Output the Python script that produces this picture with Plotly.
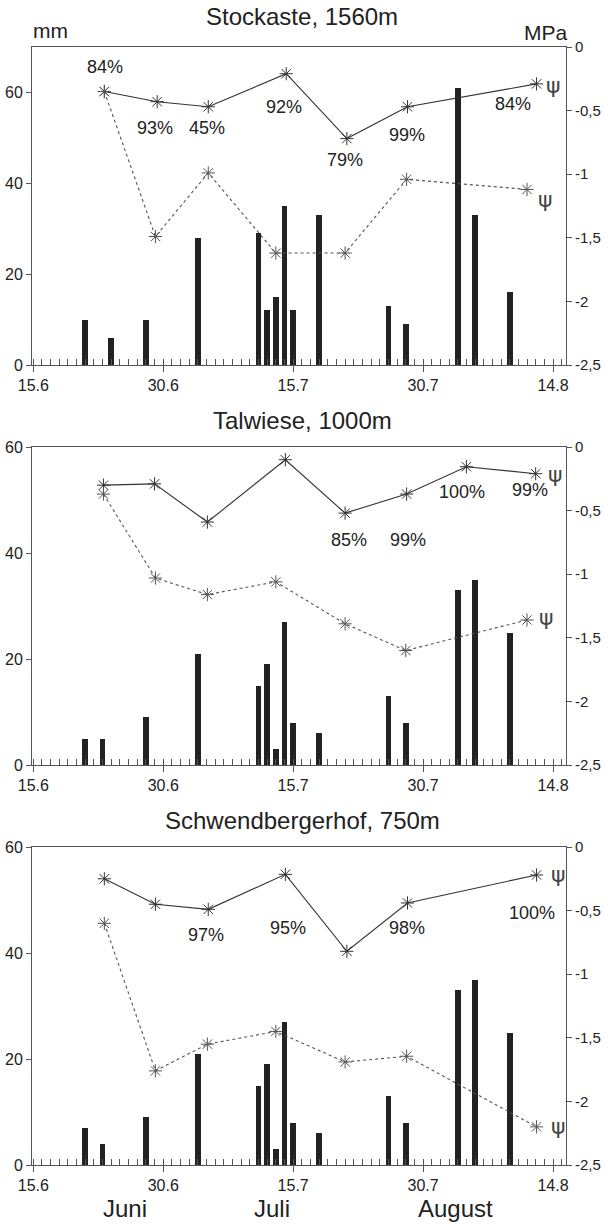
import plotly.graph_objects as go

# ---------------- data ----------------
# x = days since 15 June
tick_days = [0, 15, 30, 45, 60]
tick_labels = ["15.6", "30.6", "15.7", "30.7", "14.8"]
months = ["Juni", "Juli", "August"]

titles = ["Stockaste, 1560m", "Talwiese, 1000m", "Schwendbergerhof, 750m"]

# precipitation (mm)
p1_days = [6, 9, 13, 19, 26, 27, 28, 29, 30, 33, 41, 43, 49, 51, 55]
p1_mm = [10, 6, 10, 28, 29, 12, 15, 35, 12, 33, 13, 9, 61, 33, 16]
p2_days = [6, 8, 13, 19, 26, 27, 28, 29, 30, 33, 41, 43, 49, 51, 55]
p2_mm = [5, 5, 9, 21, 15, 19, 3, 27, 8, 6, 13, 8, 33, 35, 25]
p3_days = [6, 8, 13, 19, 26, 27, 28, 29, 30, 33, 41, 43, 49, 51, 55]
p3_mm = [7, 4, 9, 21, 15, 19, 3, 27, 8, 6, 13, 8, 33, 35, 25]

# water potential (MPa), solid = upper curve, dotted = lower curve
s1_days = [8.2, 14.3, 20.2, 29.2, 36.2, 43.2, 58.1]
s1_mpa = [-0.35, -0.43, -0.47, -0.21, -0.72, -0.47, -0.29]
d1_days = [8.2, 14.1, 20.2, 28.0, 36.0, 43.1, 57.0]
d1_mpa = [-0.35, -1.49, -0.99, -1.62, -1.62, -1.04, -1.12]

s2_days = [8.1, 14.0, 20.1, 29.1, 36.0, 43.1, 50.0, 58.0]
s2_mpa = [-0.30, -0.29, -0.59, -0.10, -0.52, -0.37, -0.155, -0.21]
d2_days = [8.1, 14.1, 20.1, 28.0, 36.0, 43.0, 57.0]
d2_mpa = [-0.37, -1.03, -1.16, -1.06, -1.39, -1.60, -1.36]

s3_days = [8.2, 14.1, 20.2, 29.1, 36.2, 43.2, 58.1]
s3_mpa = [-0.25, -0.45, -0.49, -0.215, -0.82, -0.44, -0.22]
d3_days = [8.2, 14.1, 20.1, 28.0, 36.0, 43.1, 58.1]
d3_mpa = [-0.60, -1.76, -1.55, -1.45, -1.69, -1.645, -2.20]

pct1 = ["84%", "93%", "45%", "92%", "79%", "99%", "84%"]
pct2 = ["85%", "99%", "100%", "99%"]
pct3 = ["97%", "95%", "98%", "100%"]

mpa_ticks = [0, -0.5, -1, -1.5, -2, -2.5]
mpa_labels = ["0", "-0,5", "-1", "-1,5", "-2", "-2,5"]
mm_ticks = [0, 20, 40, 60]

# ---------------- layout helpers (positions) ----------------
pct1_pos = [(8.3, -0.155), (14.1, -0.64), (20.1, -0.64), (28.9, -0.47),
            (36.0, -0.89), (43.1, -0.69), (55.4, -0.45)]
pct2_pos = [(36.4, -0.73), (43.3, -0.73), (49.5, -0.35), (57.3, -0.34)]
pct3_pos = [(19.9, -0.69), (29.4, -0.64), (43.1, -0.64), (57.6, -0.52)]
psi_pos = [[(60.1, -0.30), (59.1, -1.20)],
           [(60.3, -0.22), (59.2, -1.34)],
           [(60.6, -0.22), (60.6, -2.20)]]
month_x = [10.6, 27.6, 48.7]

W, H = 610, 1224
L, R, T, B = 32, 566, 47, 1165
def py(p):
    return (B - p) / (B - T)
def px(p):
    return (p - L) / (R - L)

domains = [[py(365), 1.0], [py(765), py(447)], [0.0, py(847)]]
title_y = [17, 420, 820]
mm_max = [70, 60, 60]

FONT = "Liberation Sans, Arial, sans-serif"
FRAME = "#555"
INK = "#222"

fig = go.Figure()

panels = [
    (p1_days, p1_mm, s1_days, s1_mpa, d1_days, d1_mpa, pct1, pct1_pos),
    (p2_days, p2_mm, s2_days, s2_mpa, d2_days, d2_mpa, pct2, pct2_pos),
    (p3_days, p3_mm, s3_days, s3_mpa, d3_days, d3_mpa, pct3, pct3_pos),
]

annotations = []
layout = dict(
    width=W, height=H,
    margin=dict(l=L, r=W - R, t=T, b=H - B, autoexpand=False),
    paper_bgcolor="white", plot_bgcolor="white",
    showlegend=False,
    font=dict(family=FONT, size=16, color=INK),
    bargap=0,
)

def paper_text(txt, x, y, size, xref="paper"):
    return dict(text=txt, x=x, y=y, xref=xref, yref="paper", showarrow=False,
                xanchor="center", yanchor="middle", font=dict(size=size, color=INK))

for i, (bd, bv, sd, sv, dd, dv, pct, ppos) in enumerate(panels):
    xn = "x" if i == 0 else f"x{i+1}"
    yl = f"y{2*i+1}" if i > 0 else "y"
    yr = f"y{2*i+2}"
    fig.add_trace(go.Bar(x=bd, y=bv, width=0.65, marker=dict(color=INK, line=dict(width=0)),
                         xaxis=xn, yaxis=yl))
    fig.add_trace(go.Scatter(x=sd, y=sv, mode="lines+markers", xaxis=xn, yaxis=yr,
                             line=dict(color="#333", width=1.1),
                             marker=dict(symbol="asterisk-open", size=11,
                                         line=dict(color="#333", width=1))))
    fig.add_trace(go.Scatter(x=dd, y=dv, mode="lines+markers", xaxis=xn, yaxis=yr,
                             line=dict(color="#555", width=1.1, dash="dot"),
                             marker=dict(symbol="asterisk-open", size=11,
                                         line=dict(color="#444", width=1))))
    xkey = "xaxis" if i == 0 else f"xaxis{i+1}"
    ylkey = "yaxis" if i == 0 else f"yaxis{2*i+1}"
    yrkey = f"yaxis{2*i+2}"
    layout[xkey] = dict(
        domain=[0, 1], anchor=yl, range=[-0.15, 61.5], automargin=False,
        tickmode="array", tickvals=tick_days, ticktext=tick_labels,
        ticks="outside", ticklen=6, tickcolor=FRAME, tickwidth=1,
        minor=dict(tickmode="linear", tick0=0, dtick=1, ticks="inside",
                   ticklen=6, tickcolor=FRAME, tickwidth=1, showgrid=False),
        showline=True, linecolor=FRAME, linewidth=1, mirror=True,
        showgrid=False, zeroline=False, tickfont=dict(size=16),
    )
    layout[ylkey] = dict(
        domain=domains[i], anchor=xn, range=[0, mm_max[i]], automargin=False,
        tickmode="array", tickvals=mm_ticks,
        ticks="outside", ticklen=5, tickcolor=FRAME,
        showline=True, linecolor=FRAME, linewidth=1,
        showgrid=False, zeroline=False, tickfont=dict(size=16),
    )
    layout[yrkey] = dict(
        domain=domains[i], anchor=xn, overlaying=yl, side="right", automargin=False,
        range=[-2.5, 0], tickmode="array", tickvals=mpa_ticks, ticktext=mpa_labels,
        ticks="outside", ticklen=5, tickcolor=FRAME,
        showline=True, linecolor=FRAME, linewidth=1,
        showgrid=False, zeroline=False, tickfont=dict(size=15),
    )
    for txt, (ax_, ay_) in zip(pct, ppos):
        annotations.append(dict(text=txt, x=ax_, y=ay_, xref=xn, yref=yr,
                                showarrow=False, xanchor="center", yanchor="middle",
                                font=dict(size=18, color=INK)))
    for (ax_, ay_) in psi_pos[i]:
        annotations.append(dict(text="ψ", x=ax_, y=ay_, xref=xn, yref=yr,
                                showarrow=False, xanchor="center", yanchor="middle",
                                font=dict(size=22, color="#444",
                                          family="DejaVu Sans")))
    annotations.append(paper_text(titles[i], px(302), py(title_y[i]), 24))

annotations.append(paper_text("mm", px(50), py(31), 21))
annotations.append(paper_text("MPa", px(546), py(32), 21))
for m, mx in zip(months, month_x):
    annotations.append(paper_text(m, mx, py(1208), 24, xref="x3"))

layout["annotations"] = annotations
fig.update_layout(**layout)
fig.write_html("out.html",
               config={"displayModeBar": False, "staticPlot": True},
               post_script="document.body.style.margin='0';document.body.style.padding='0';")
